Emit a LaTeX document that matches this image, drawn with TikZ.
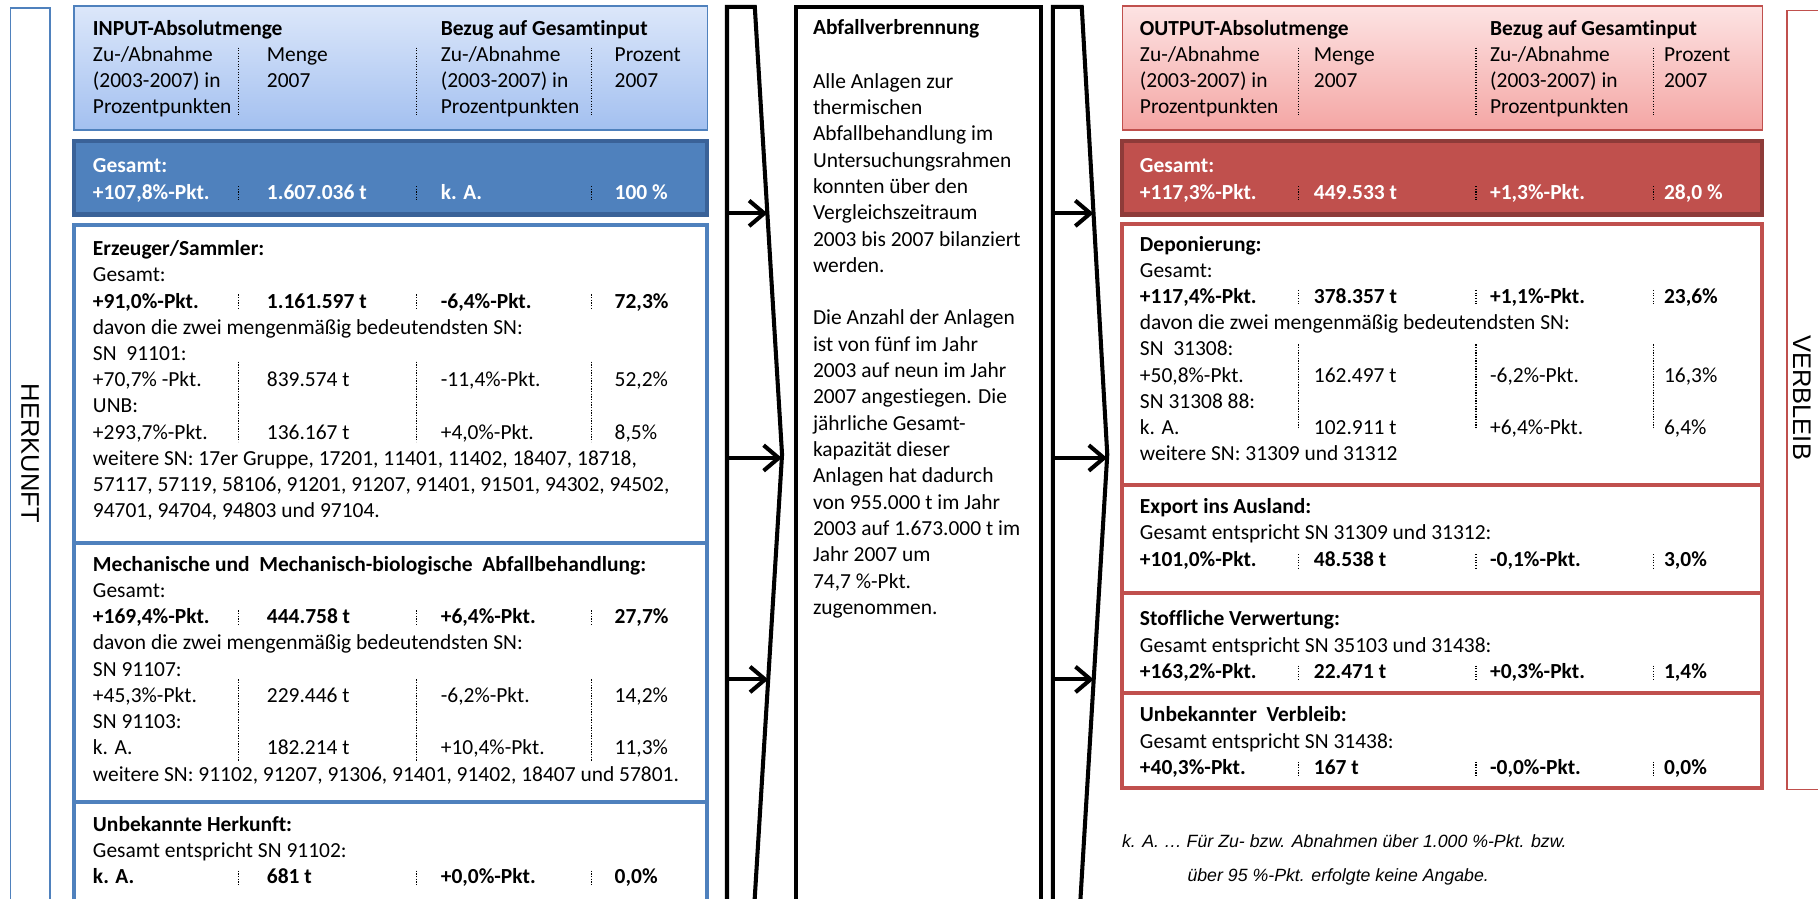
\documentclass[tikz,border=0pt]{standalone}
\usepackage{fontspec}
\setmainfont{Carlito}[RawFeature={-liga;-clig;-calt}]
\newfontfamily\arialf{Liberation Sans}
\usetikzlibrary{arrows.meta}
\definecolor{accB}{HTML}{4F81BD}
\definecolor{accBd}{HTML}{3A6298}
\definecolor{accR}{HTML}{C0504D}
\definecolor{accRd}{HTML}{8E3B39}
\definecolor{hBt}{HTML}{DCE7FA}
\definecolor{hBb}{HTML}{A3C0F0}
\definecolor{hRt}{HTML}{FDE3E3}
\definecolor{hRb}{HTML}{F4A6A4}
\newcommand\SetCols[7]{\def\cA{#1}\def\sA{#2}\def\cB{#3}\def\sB{#4}\def\cC{#5}\def\sC{#6}\def\cD{#7}}
\newcommand\QRow[7]{%
  \node[#3] (#1-a) at (\cA,#2) {#4};
  \node[#3] (#1-b) at (\cB,#2) {#5};
  \node[#3] (#1-c) at (\cC,#2) {#6};
  \node[#3] (#1-d) at (\cD,#2) {#7};}
\newcommand\Seps[2]{\draw[sepline] (\sA,#1) -- (\sA,#2) (\sB,#1) -- (\sB,#2) (\sC,#1) -- (\sC,#2);}
\begin{document}
\begin{tikzpicture}[x=1pt,y=-1pt,
 txt/.style={anchor=base west,inner sep=0pt,font=\fontsize{18.5}{22.6}\selectfont},
 btxt/.style={txt,font=\fontsize{18.5}{22.6}\selectfont\bfseries},
 wtxt/.style={btxt,text=white},
 sepline/.style={draw=black,line width=1pt,dash pattern=on 1pt off 1.3pt},
 panel/.style={rectangle,anchor=north west,inner sep=0pt,outer sep=0pt},
 hdrB/.style={panel,draw=accB,line width=1.3pt,top color=hBt,bottom color=hBb},
 totB/.style={panel,draw=accBd,line width=3.5pt,fill=accB},
 catB/.style={panel,draw=accB,line width=3.5pt,fill=white},
 hdrR/.style={panel,draw=accR,line width=1.3pt,top color=hRt,bottom color=hRb},
 totR/.style={panel,draw=accRd,line width=3.5pt,fill=accR},
 catR/.style={panel,draw=accR,line width=3.5pt,fill=white},
 chev/.style={draw=black,line width=3.5pt,line join=miter},
 flow/.style={draw=black,line width=3.5pt,-{Straight Barb[length=13pt,width=22pt,line width=3.5pt]}},
 sidelab/.style={rotate=-90,inner sep=0pt,font=\arialf\fontsize{22}{26}\selectfont},
 foot/.style={anchor=base west,inner sep=0pt,font=\arialf\itshape\fontsize{15.3}{18}\selectfont}
]
\useasboundingbox (0,0) rectangle (1568,775);
\clip (0,0) rectangle (1568,775);

% side frames
\node[panel,draw=accB,line width=1.5pt,minimum width=34pt,minimum height=800pt] (herkbox) at (9,7) {};
\node[sidelab] (herk) at (26,391) {HERKUNFT};
\node[panel,draw=accR,line width=1.5pt,minimum width=60pt,minimum height=672pt] (verbbox) at (1541,9) {};
\node[sidelab] (verb) at (1554,343) {VERBLEIB};

% input panels
\node[hdrB,minimum width=546pt,minimum height=107pt] (inhead) at (64,5) {};
\node[totB,minimum width=546pt,minimum height=63pt] (intot) at (64,122) {};
\node[catB,minimum width=546pt,minimum height=274.5pt] (inerz) at (64,194) {};
\node[catB,minimum width=546pt,minimum height=223pt] (inmech) at (64,468.5) {};
\node[catB,minimum width=546pt,minimum height=120pt] (inunb) at (64,691.5) {};

% output panels
\node[hdrR,minimum width=552pt,minimum height=107pt] (outhead) at (968,5) {};
\node[totR,minimum width=552pt,minimum height=63pt] (outtot) at (968,122) {};
\node[catR,minimum width=552pt,minimum height=225.5pt] (outdep) at (968,193) {};
\node[catR,minimum width=552pt,minimum height=93pt] (outexp) at (968,418.5) {};
\node[catR,minimum width=552pt,minimum height=86pt] (outstoff) at (968,511.5) {};
\node[catR,minimum width=552pt,minimum height=82.5pt] (outunb) at (968,597.5) {};

% middle box
\node[panel,draw=black,line width=3.5pt,minimum width=211.5pt,minimum height=800pt] (mid) at (686.5,6) {};
\node[btxt] (mtitle) at (701,30) {Abfallverbrennung};
\foreach \t [count=\k from 0] in {Alle Anlagen zur,thermischen,Abfallbehandlung im,Untersuchungsrahmen,konnten über den,Vergleichszeitraum,2003 bis 2007 bilanziert,werden.}
  {\node[txt] (mt\k) at (701,76+\k*22.7) {\t};}
\foreach \t [count=\k from 9] in {Die Anzahl der Anlagen,ist von fünf im Jahr,2003 auf neun im Jahr,2007 angestiegen. Die,jährliche Gesamt-,kapazität dieser,Anlagen hat dadurch,von 955.000 t im Jahr,2003 auf 1.673.000 t im,Jahr 2007 um,{74,7 \%-Pkt.},zugenommen.}
  {\node[txt] (mt\k) at (701,76+\k*22.7) {\t};}

% chevrons
\coordinate (L0) at (627,790); \coordinate (L1) at (627,6); \coordinate (L2) at (651,6);
\coordinate (L3) at (674.5,392); \coordinate (L4) at (650,790);
\draw[chev] (L0) -- (L1) -- (L2) -- (L3) -- (L4);
\coordinate (R0) at (908,790); \coordinate (R1) at (908,6); \coordinate (R2) at (933,6);
\coordinate (R3) at (955,392); \coordinate (R4) at (931,790);
\draw[chev] (R0) -- (R1) -- (R2) -- (R3) -- (R4);
\coordinate (La1) at (627,184); \coordinate (Lb1) at (661.8,184);
\coordinate (La2) at (627,395); \coordinate (Lb2) at (674.3,395);
\coordinate (La3) at (627,586); \coordinate (Lb3) at (662.6,586);
\coordinate (Ra1) at (908,184); \coordinate (Rb1) at (943.1,184);
\coordinate (Ra2) at (908,395); \coordinate (Rb2) at (954.8,395);
\coordinate (Ra3) at (908,586); \coordinate (Rb3) at (943.3,586);
\draw[flow] (La1) -- (Lb1);
\draw[flow] (La2) -- (Lb2);
\draw[flow] (La3) -- (Lb3);
\draw[flow] (Ra1) -- (Rb1);
\draw[flow] (Ra2) -- (Rb2);
\draw[flow] (Ra3) -- (Rb3);

% ===== input texts
\SetCols{80}{206}{230}{359}{380}{510}{530}
\node[btxt] (inh-t1) at (80,31) {INPUT-Absolutmenge};
\node[btxt] (inh-t2) at (380,31) {Bezug auf Gesamtinput};
\QRow{inh1}{53}{txt}{Zu-/Abnahme}{Menge}{Zu-/Abnahme}{Prozent}
\QRow{inh2}{75.5}{txt}{(2003-2007) in}{2007}{(2003-2007) in}{2007}
\node[txt] (inh3-a) at (80,97.5) {Prozentpunkten};
\node[txt] (inh3-c) at (380,97.5) {Prozentpunkten};
\Seps{41}{100}
\node[wtxt] (intot-t) at (80,148.5) {Gesamt:};
\QRow{intotr}{172}{wtxt}{+107,8\%-Pkt.}{1.607.036 t}{k. A.}{100 \%}
\Seps{160.5}{172.5}

\node[btxt] (e0) at (80,220.5) {Erzeuger/Sammler:};
\node[txt] (e1) at (80,243.1) {Gesamt:};
\QRow{e2}{265.7}{btxt}{+91,0\%-Pkt.}{1.161.597 t}{-6,4\%-Pkt.}{72,3\%}
\Seps{254}{266}
\node[txt] (e3) at (80,288.3) {davon die zwei mengenmäßig bedeutendsten SN:};
\node[txt] (e4) at (80,310.9) {SN\ \ 91101:};
\QRow{e5}{333.5}{txt}{+70,7\% -Pkt.}{839.574 t}{-11,4\%-Pkt.}{52,2\%}
\node[txt] (e6) at (80,356.1) {UNB:};
\QRow{e7}{378.7}{txt}{+293,7\%-Pkt.}{136.167 t}{+4,0\%-Pkt.}{8,5\%}
\Seps{312}{381}
\node[txt] (e8) at (80,401.3) {weitere SN: 17er Gruppe, 17201, 11401, 11402, 18407, 18718,};
\node[txt] (e9) at (80,423.9) {57117, 57119, 58106, 91201, 91207, 91401, 91501, 94302, 94502,};
\node[txt] (e10) at (80,446.5) {94701, 94704, 94803 und 97104.};

\node[btxt] (m0) at (80,492.8) {Mechanische und\ \ Mechanisch-biologische\ \ Abfallbehandlung:};
\node[txt] (m1) at (80,515.4) {Gesamt:};
\QRow{m2}{538}{btxt}{+169,4\%-Pkt.}{444.758 t}{+6,4\%-Pkt.}{27,7\%}
\Seps{526.5}{538.5}
\node[txt] (m3) at (80,560.6) {davon die zwei mengenmäßig bedeutendsten SN:};
\node[txt] (m4) at (80,583.2) {SN 91107:};
\QRow{m5}{605.8}{txt}{+45,3\%-Pkt.}{229.446 t}{-6,2\%-Pkt.}{14,2\%}
\node[txt] (m6) at (80,628.4) {SN 91103:};
\QRow{m7}{651}{txt}{k. A.}{182.214 t}{+10,4\%-Pkt.}{11,3\%}
\Seps{586}{657}
\node[txt] (m8) at (80,673.6) {weitere SN: 91102, 91207, 91306, 91401, 91402, 18407 und 57801.};

\node[btxt] (u0) at (80,717.1) {Unbekannte Herkunft:};
\node[txt] (u1) at (80,739.7) {Gesamt entspricht SN 91102:};
\QRow{u2}{762.3}{btxt}{k. A.}{681 t}{+0,0\%-Pkt.}{0,0\%}
\Seps{751}{763}

% ===== output texts
\SetCols{983}{1120}{1133}{1273}{1285}{1426}{1435}
\node[btxt] (outh-t1) at (983,31) {OUTPUT-Absolutmenge};
\node[btxt] (outh-t2) at (1285,31) {Bezug auf Gesamtinput};
\QRow{outh1}{53}{txt}{Zu-/Abnahme}{Menge}{Zu-/Abnahme}{Prozent}
\QRow{outh2}{75.5}{txt}{(2003-2007) in}{2007}{(2003-2007) in}{2007}
\node[txt] (outh3-a) at (983,97.5) {Prozentpunkten};
\node[txt] (outh3-c) at (1285,97.5) {Prozentpunkten};
\Seps{41}{100}
\node[wtxt] (outtot-t) at (983,148.5) {Gesamt:};
\QRow{outtotr}{172}{wtxt}{+117,3\%-Pkt.}{449.533 t}{+1,3\%-Pkt.}{28,0 \%}
\Seps{160.5}{172.5}

\node[btxt] (d0) at (983,216.5) {Deponierung:};
\node[txt] (d1) at (983,239.1) {Gesamt:};
\QRow{d2}{261.7}{btxt}{+117,4\%-Pkt.}{378.357 t}{+1,1\%-Pkt.}{23,6\%}
\Seps{250}{262}
\node[txt] (d3) at (983,284.3) {davon die zwei mengenmäßig bedeutendsten SN:};
\node[txt] (d4) at (983,306.9) {SN\ \ 31308:};
\QRow{d5}{329.5}{txt}{+50,8\%-Pkt.}{162.497 t}{-6,2\%-Pkt.}{16,3\%}
\node[txt] (d6) at (983,352.1) {SN 31308 88:};
\QRow{d7}{374.7}{txt}{k. A.}{102.911 t}{+6,4\%-Pkt.}{6,4\%}
\Seps{297}{370}
\node[txt] (d8) at (983,397.3) {weitere SN: 31309 und 31312};

\node[btxt] (x0) at (983,442.5) {Export ins Ausland:};
\node[txt] (x1) at (983,465.5) {Gesamt entspricht SN 31309 und 31312:};
\QRow{x2}{489}{btxt}{+101,0\%-Pkt.}{48.538 t}{-0,1\%-Pkt.}{3,0\%}
\Seps{478}{490}

\node[btxt] (s0) at (983,539.5) {Stoffliche Verwertung:};
\node[txt] (s1) at (983,563) {Gesamt entspricht SN 35103 und 31438:};
\QRow{s2}{585}{btxt}{+163,2\%-Pkt.}{22.471 t}{+0,3\%-Pkt.}{1,4\%}
\Seps{574}{586}

\node[btxt] (v0) at (983,622.2) {Unbekannter\ \ Verbleib:};
\node[txt] (v1) at (983,645.5) {Gesamt entspricht SN 31438:};
\QRow{v2}{668}{btxt}{+40,3\%-Pkt.}{167 t}{-0,0\%-Pkt.}{0,0\%}
\Seps{657}{669}

% footnote
\node[foot] (fn1) at (967.5,731) {k. A. … Für Zu- bzw. Abnahmen über 1.000 \%-Pkt. bzw.};
\node[foot] (fn2) at (1024,760) {über 95 \%-Pkt. erfolgte keine Angabe.};
\end{tikzpicture}
\end{document}
